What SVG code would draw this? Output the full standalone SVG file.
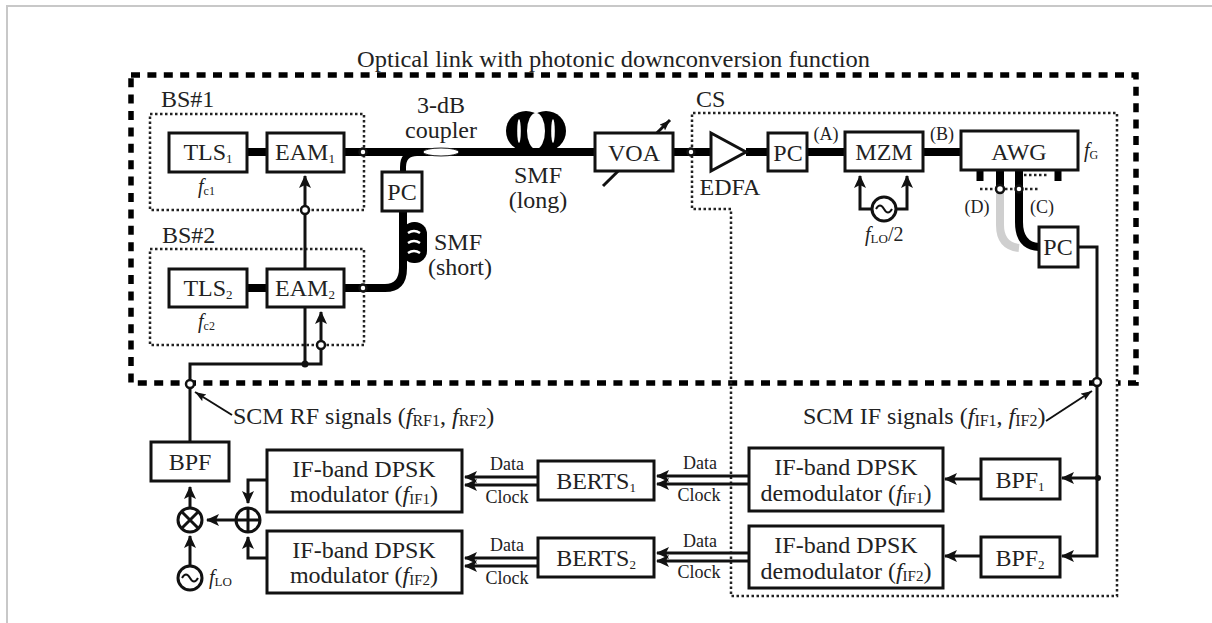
<svg xmlns="http://www.w3.org/2000/svg" width="1212" height="623" viewBox="0 0 1212 623">
<style>
text{font-family:"Liberation Serif","Times New Roman",serif;fill:#222;font-size:24px}
.c{text-anchor:middle}
.t{font-size:18px}
.p{font-size:18px}
.sm{font-size:24px}
.i{font-style:italic}
.f19{font-size:20px;font-style:italic}
.box{fill:#fff;stroke:#111;stroke-width:3}
.w{fill:none;stroke:#111;stroke-width:3}
.w2{fill:none;stroke:#111;stroke-width:2}
.f{fill:none;stroke:#000;stroke-width:6}
.ff{fill:none;stroke:#000;stroke-width:8}
.st{fill:none;stroke:#000;stroke-width:7}
.dot{fill:none;stroke:#222;stroke-width:2.500;stroke-dasharray:2.500 2.500}
.dash{fill:none;stroke:#000;stroke-width:5.500;stroke-dasharray:9 7.400}
.n{fill:#fff;stroke:#111;stroke-width:2.500}
</style>
<defs>
<marker id="a" markerUnits="userSpaceOnUse" markerWidth="14" markerHeight="14" refX="12" refY="6" orient="auto"><path d="M0 0L13 6L0 12L3 6Z" fill="#111"/></marker>
<marker id="b" markerUnits="userSpaceOnUse" markerWidth="12" markerHeight="10" refX="11" refY="4" orient="auto"><path d="M0 0L11 4L0 8L2 4Z" fill="#111"/></marker>
</defs>
<rect width="1212" height="623" fill="#fff"/>
<path d="M7 623V6H1212" fill="none" stroke="#c8c8c8" stroke-width="2"/>

<g id="regions">
<path class="dash" d="M131 75H1136V383H1118M1098 383H131V75"/>
<rect class="dot" x="150" y="114" width="214" height="96"/>
<rect class="dot" x="150" y="249" width="214" height="96"/>
<path class="dot" d="M692 152V113H1117V596H731V209H692V152"/>
<path class="dot" d="M980 189H1040"/>
<path class="dot" d="M1024 175H1047"/>
</g>

<g id="SMFlong"><circle cx="526" cy="131" r="20" fill="#000"/><circle cx="546" cy="131" r="20" fill="#000"/><ellipse cx="536" cy="131" rx="9" ry="18" fill="#fff"/><ellipse cx="519" cy="131" rx="1.800" ry="12" fill="#fff"/><ellipse cx="553" cy="131" rx="1.800" ry="12" fill="#fff"/></g>

<g id="connectors">
<path class="ff" d="M247 152H267M344 152H595M673 152H711M746 152H768M807 152H845M923 152H961M247 288H267"/>
<path class="ff" d="M344 288H385Q403 288 403 268V211"/>
<path class="f" d="M403 172V167Q403 153 417 153H430"/>
<path class="st" d="M980 170V181M1058 170V181"/>
<path class="ff" d="M1000 170V190"/>
<path d="M1000 192V225Q1000 246 1019 248" fill="none" stroke="#cfcfcf" stroke-width="8"/>
<path class="ff" d="M1019 170V222Q1019 246 1039 247"/>
<path class="w" d="M305 269V176" marker-end="url(#a)"/>
<path class="w" d="M305 307V364"/>
<path class="w" d="M190 442V364H321V312" marker-end="url(#a)"/>
<path class="w" d="M190 508V487" marker-end="url(#a)"/>
<path class="w" d="M190 566V536" marker-end="url(#a)"/>
<path class="w" d="M236 520H207" marker-end="url(#a)"/>
<path class="w" d="M267 480H248V503" marker-end="url(#a)"/>
<path class="w" d="M267 558H248V537" marker-end="url(#a)"/>
<path class="w" d="M1078 247H1097V556H1062" marker-end="url(#a)"/>
<path class="w" d="M1097 478H1062" marker-end="url(#a)"/>
<path class="w" d="M981 479H945" marker-end="url(#a)"/>
<path class="w" d="M981 556H945" marker-end="url(#a)"/>
<path class="w" d="M872 209H860V176" marker-end="url(#a)"/>
<path class="w" d="M896 209H907V176" marker-end="url(#a)"/>
<g>
<path class="w" d="M749 476H657" marker-end="url(#a)"/><path class="w" d="M749 484H657" marker-end="url(#a)"/>
<path class="w" d="M749 553H657" marker-end="url(#a)"/><path class="w" d="M749 561H657" marker-end="url(#a)"/>
<path class="w" d="M538 477H465" marker-end="url(#a)"/><path class="w" d="M538 485H465" marker-end="url(#a)"/>
<path class="w" d="M538 558H465" marker-end="url(#a)"/><path class="w" d="M538 566H465" marker-end="url(#a)"/>
</g>
<path class="w2" d="M232 415L195 392" marker-end="url(#b)"/>
<path class="w2" d="M1046 421L1092 391" marker-end="url(#b)"/>
<path class="w" d="M603 186L670 120" marker-end="url(#b)"/>
<circle cx="305" cy="364" r="3.500" fill="#111"/>
<circle cx="1098" cy="478" r="3" fill="#111"/>
<circle class="n" cx="363" cy="152" r="3.500"/>
<circle class="n" cx="363" cy="288" r="3.500"/>
<circle class="n" cx="305" cy="210" r="4"/>
<circle class="n" cx="321" cy="345" r="4"/>
<circle class="n" cx="190" cy="384" r="4"/>
<circle class="n" cx="691" cy="152" r="3.500"/>
<circle class="n" cx="1097" cy="382" r="4"/>
<circle class="n" cx="1000" cy="189" r="4"/>
<circle class="n" cx="1019" cy="189" r="3.500"/>
</g>

<g id="title"><text x="357" y="67" textLength="513" lengthAdjust="spacingAndGlyphs">Optical link with photonic downconversion function</text></g>
<g id="labels">
<text x="161" y="107">BS#1</text>
<text x="162" y="243">BS#2</text>
<text x="696" y="107">CS</text>
<text class="c" x="441" y="113">3-dB</text>
<text class="c" x="441" y="138">coupler</text>
<text class="c" x="538" y="183">SMF</text>
<text class="c" x="538" y="208">(long)</text>
<text class="c" x="458" y="250">SMF</text>
<text class="c" x="460" y="275">(short)</text>
<text class="c" x="730" y="195">EDFA</text>
<text class="c p" x="826" y="140">(A)</text>
<text class="c p" x="942" y="140">(B)</text>
<text class="c p" x="1042" y="213">(C)</text>
<text class="c p" x="977" y="213">(D)</text>
<text x="198" y="193" class="f19">f<tspan font-size="12" font-style="normal" dy="2">c1</tspan></text>
<text x="198" y="328" class="f19">f<tspan font-size="12" font-style="normal" dy="2">c2</tspan></text>
<text x="1084" y="157" class="f19">f<tspan font-size="12" font-style="normal" dy="2">G</tspan></text>
<text x="865" y="241" class="f19">f<tspan font-size="13" font-style="normal" dy="2">LO</tspan><tspan font-size="20" font-style="normal" dy="-2">/2</tspan></text>
<text x="209" y="584" class="f19">f<tspan font-size="13" font-style="normal" dy="2">LO</tspan></text>
<text x="233" y="424" class="sm">SCM RF signals (<tspan class="i">f</tspan><tspan font-size="16" dy="2">RF1</tspan><tspan dy="-2">, </tspan><tspan class="i">f</tspan><tspan font-size="16" dy="2">RF2</tspan><tspan dy="-2">)</tspan></text>
<text x="803" y="424" class="sm">SCM IF signals (<tspan class="i">f</tspan><tspan font-size="16" dy="2">IF1</tspan><tspan dy="-2">, </tspan><tspan class="i">f</tspan><tspan font-size="16" dy="2">IF2</tspan><tspan dy="-2">)</tspan></text>
<text class="c t" x="507" y="470">Data</text>
<text class="c t" x="507" y="503">Clock</text>
<text class="c t" x="507" y="551">Data</text>
<text class="c t" x="507" y="584">Clock</text>
<text class="c t" x="700" y="469">Data</text>
<text class="c t" x="699" y="501">Clock</text>
<text class="c t" x="700" y="547">Data</text>
<text class="c t" x="699" y="578">Clock</text>
</g>

<g id="TLS1"><rect class="box" x="169" y="133" width="78" height="39"/><text class="c" x="208" y="160">TLS<tspan font-size="13" dy="3">1</tspan></text></g>
<g id="EAM1"><rect class="box" x="267" y="133" width="77" height="39"/><text class="c" x="305" y="160">EAM<tspan font-size="13" dy="3">1</tspan></text></g>
<g id="TLS2"><rect class="box" x="169" y="269" width="78" height="38"/><text class="c" x="208" y="296">TLS<tspan font-size="13" dy="3">2</tspan></text></g>
<g id="EAM2"><rect class="box" x="267" y="269" width="77" height="38"/><text class="c" x="305" y="296">EAM<tspan font-size="13" dy="3">2</tspan></text></g>
<g id="coupler"><ellipse cx="441" cy="152" rx="18" ry="4" fill="#fff" stroke="#222" stroke-width="1"/></g>
<g id="PC1"><rect class="box" x="382" y="172" width="40" height="39"/><text class="c" x="402" y="200">PC</text></g>
<g id="SMFshort"><rect x="402" y="222" width="25" height="41" rx="12" fill="#000"/><path d="M408 233Q414 229 420 233M408 243Q414 239 420 243M408 253Q414 249 420 253" fill="none" stroke="#fff" stroke-width="2.500"/></g>
<g id="VOA"><rect class="box" x="595" y="133" width="78" height="38"/><text class="c" x="634" y="161">VOA</text></g>
<g id="EDFA"><path class="box" d="M711 133L746 152L711 171Z"/></g>
<g id="PC2"><rect class="box" x="768" y="133" width="39" height="38"/><text class="c" x="788" y="161">PC</text></g>
<g id="MZM"><rect class="box" x="845" y="132" width="78" height="39"/><text class="c" x="884" y="160">MZM</text></g>
<g id="AWG"><rect class="box" x="961" y="131" width="117" height="39"/><text class="c" x="1019" y="160">AWG</text></g>
<g id="PC3"><rect class="box" x="1039" y="227" width="39" height="40"/><text class="c" x="1058" y="255">PC</text></g>
<g id="OSC1"><circle class="box" cx="884" cy="209" r="12"/><path d="M876 209Q880 202 884 209T892 209" fill="none" stroke="#111" stroke-width="2"/></g>
<g id="OSC2"><circle class="box" cx="190" cy="578" r="12"/><path d="M182 578Q186 571 190 578T198 578" fill="none" stroke="#111" stroke-width="2"/></g>
<g id="MIX"><circle class="box" cx="190" cy="520" r="12"/><path d="M181.500 511.500L198.500 528.500M198.500 511.500L181.500 528.500" class="w"/></g>
<g id="SUM"><circle class="box" cx="248" cy="520" r="12"/><path d="M236 520H260M248 508V532" class="w"/></g>
<g id="BPF"><rect class="box" x="151" y="442" width="78" height="39"/><text class="c" x="190" y="470">BPF</text></g>
<g id="MOD1"><rect class="box" x="267" y="450" width="195" height="62"/><text class="c" x="364" y="477">IF-band DPSK</text><text class="c" x="364" y="502">modulator (<tspan class="i">f</tspan><tspan font-size="15" dy="2">IF1</tspan><tspan dy="-2">)</tspan></text></g>
<g id="MOD2"><rect class="box" x="267" y="531" width="195" height="62"/><text class="c" x="364" y="558">IF-band DPSK</text><text class="c" x="364" y="583">modulator (<tspan class="i">f</tspan><tspan font-size="15" dy="2">IF2</tspan><tspan dy="-2">)</tspan></text></g>
<g id="BERTS1"><rect class="box" x="538" y="461" width="116" height="39"/><text class="c" x="596" y="489">BERTS<tspan font-size="13" dy="3">1</tspan></text></g>
<g id="BERTS2"><rect class="box" x="538" y="538" width="116" height="39"/><text class="c" x="596" y="566">BERTS<tspan font-size="13" dy="3">2</tspan></text></g>
<g id="DEM1"><rect class="box" x="749" y="448" width="194" height="63"/><text class="c" x="846" y="475">IF-band DPSK</text><text class="c" x="846" y="501">demodulator (<tspan class="i">f</tspan><tspan font-size="15" dy="2">IF1</tspan><tspan dy="-2">)</tspan></text></g>
<g id="DEM2"><rect class="box" x="749" y="526" width="194" height="62"/><text class="c" x="846" y="553">IF-band DPSK</text><text class="c" x="846" y="579">demodulator (<tspan class="i">f</tspan><tspan font-size="15" dy="2">IF2</tspan><tspan dy="-2">)</tspan></text></g>
<g id="BPF1"><rect class="box" x="981" y="459" width="79" height="40"/><text class="c" x="1020" y="488">BPF<tspan font-size="13" dy="3">1</tspan></text></g>
<g id="BPF2"><rect class="box" x="981" y="537" width="79" height="40"/><text class="c" x="1020" y="566">BPF<tspan font-size="13" dy="3">2</tspan></text></g>
</svg>
